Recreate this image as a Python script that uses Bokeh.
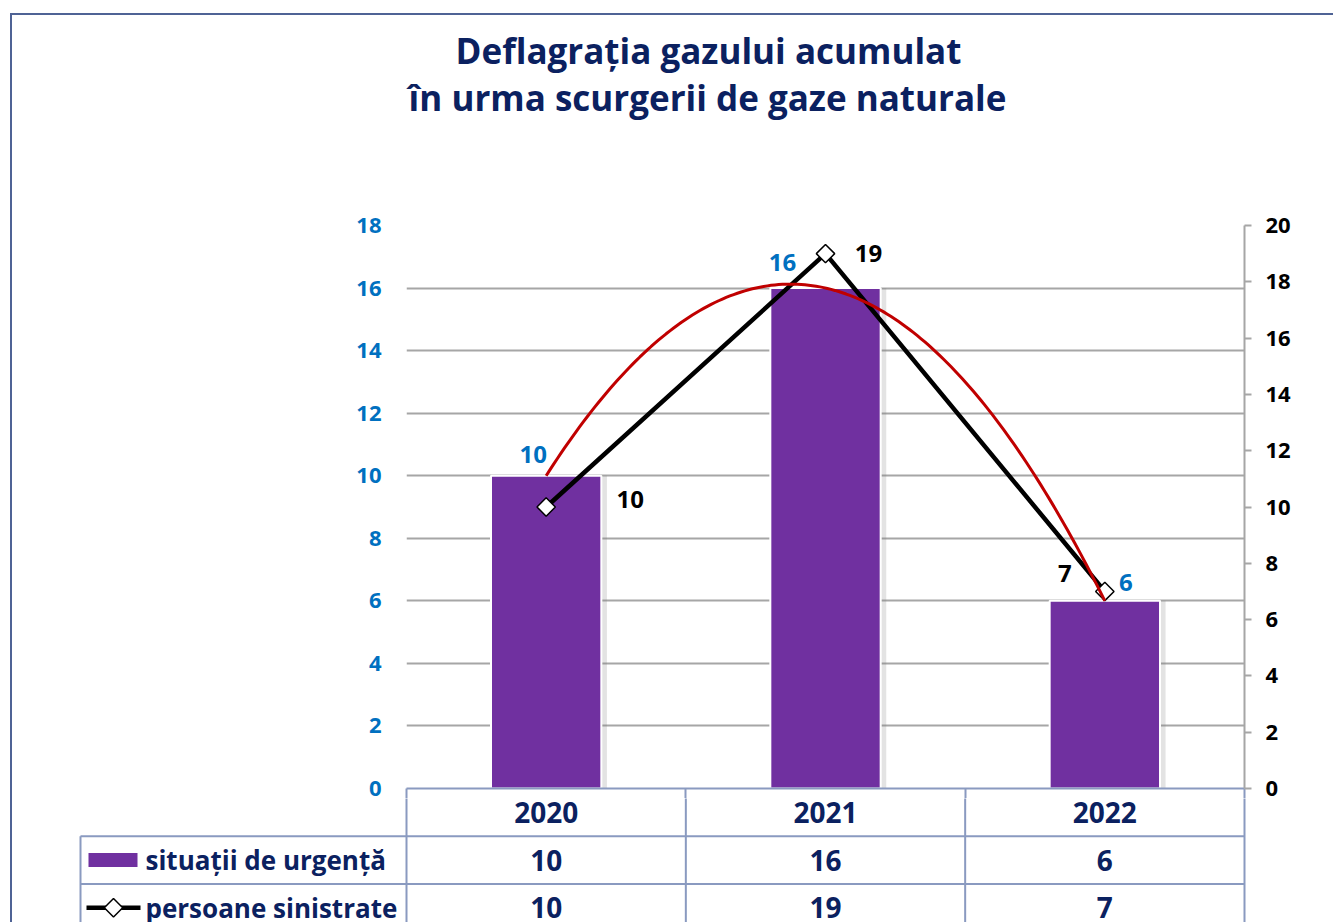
import numpy as np
from bokeh.plotting import figure
from bokeh.models import (Range1d, LinearAxis, SingleIntervalTicker, FixedTicker,
                          ColumnDataSource, LabelSet, LinearScale)
from bokeh.layouts import column
from bokeh.embed import file_html
from bokeh.resources import INLINE
from bokeh.core.properties import value

# ---------------- data ----------------
years = ["2020", "2021", "2022"]
situatii = [10, 16, 6]          # bars, left axis
persoane = [10, 19, 7]          # line, right axis
series_names = ["situații de urgență", "persoane sinistrate"]
title_lines = ["Deflagrația gazului acumulat", "în urma scurgerii de gaze naturale"]
left_max, left_step = 18, 2
right_max, right_step = 20, 2

# ---------------- styles ----------------
FONT = "Open Sans"
NAVY = "#0B2160"
BLUE = "#0070C0"
PURPLE = "#7030A0"
RED = "#C00000"
GRID = "#A6A6A6"
TABLE = "#8A9AC0"
FRAME = "#4F6395"

W = 1333
TITLE_H = 130
CHART_BOTTOM = 798                      # page y where the chart canvas ends
FL, FR, FT, FB = 406, 1244, 225, 788    # frame edges in page px
MAIN_H = CHART_BOTTOM - TITLE_H
n = len(years)
cat_px = (FR - FL) / n
xc = [i + 0.5 for i in range(n)]        # category centres (one unit per category)


def plain(f):
    f.outline_line_color = None
    f.border_fill_color = None
    f.background_fill_color = None
    f.xgrid.visible = False
    f.ygrid.visible = False


# ---------------- title block ----------------
ttl = figure(width=W, height=TITLE_H, x_range=Range1d(0, W), y_range=Range1d(TITLE_H, 0),
             x_axis_location=None, y_axis_location=None, toolbar_location=None,
             output_backend="svg", min_border_left=0, min_border_right=0,
             min_border_top=0, min_border_bottom=0)
plain(ttl)
ttl.text(x=[708, 707], y=[50, 97], text=title_lines, text_align="center",
         text_baseline="middle", text_font=value(FONT), text_font_style="bold",
         text_font_size="35px", text_color=NAVY)

# ---------------- chart ----------------
p = figure(width=W, height=MAIN_H, x_range=Range1d(0, n), y_range=Range1d(0, left_max),
           x_axis_location=None, y_axis_location=None, toolbar_location=None,
           output_backend="svg", min_border_left=FL, min_border_right=W - FR,
           min_border_top=FT - TITLE_H, min_border_bottom=CHART_BOTTOM - FB)
plain(p)
p.background_fill_color = "white"
p.extra_y_ranges = {"right": Range1d(0, right_max)}
p.extra_y_scales = {"right": LinearScale()}
p.ygrid.visible = True
p.ygrid.ticker = SingleIntervalTicker(interval=left_step, num_minor_ticks=0)
p.ygrid.grid_line_color = GRID
p.ygrid.grid_line_width = 2

ax_l = LinearAxis(ticker=SingleIntervalTicker(interval=left_step, num_minor_ticks=0),
                  axis_line_color=None, major_tick_line_color=None, minor_tick_line_color=None,
                  major_tick_out=0, major_tick_in=0, major_label_standoff=25,
                  major_label_text_font=FONT, major_label_text_font_style="bold",
                  major_label_text_font_size="22px", major_label_text_color=BLUE)
p.add_layout(ax_l, "left")

ax_r = LinearAxis(y_range_name="right",
                  ticker=SingleIntervalTicker(interval=right_step, num_minor_ticks=0),
                  axis_line_color=GRID, axis_line_width=2, major_tick_line_color=GRID,
                  major_tick_line_width=2, major_tick_out=7, major_tick_in=0,
                  minor_tick_line_color=None, major_label_standoff=14,
                  major_label_text_font=FONT, major_label_text_font_style="bold",
                  major_label_text_font_size="22px", major_label_text_color="black")
p.add_layout(ax_r, "right")

# bottom axis: top edge of the data table + start of its column separators
ax_b = LinearAxis(ticker=FixedTicker(ticks=[], minor_ticks=list(range(n + 1))),
                  axis_line_color=TABLE, axis_line_width=2,
                  major_tick_line_color=None, major_tick_out=0, major_tick_in=0,
                  minor_tick_line_color=TABLE, minor_tick_line_width=2,
                  minor_tick_out=CHART_BOTTOM - FB, minor_tick_in=0,
                  major_label_standoff=0, major_label_text_font_size="1px")
p.add_layout(ax_b, "below")

src = ColumnDataSource(dict(x=xc, years=years, situatii=situatii, persoane=persoane,
                            xs=[c + 0.02 for c in xc]))
bar_w = 0.395
p.vbar(x="xs", top="situatii", width=bar_w, source=src,
       fill_color="#7F7F7F", fill_alpha=0.22, line_color=None)
p.vbar(x="x", top="situatii", width=bar_w, source=src, fill_color=PURPLE,
       line_color="white", line_width=2)

p.line("x", "persoane", source=src, y_range_name="right", line_color="black", line_width=4.5)
p.scatter("x", "persoane", source=src, y_range_name="right", marker="square", size=13,
          angle=np.pi / 4, fill_color="white", line_color="black", line_width=1.5)

# polynomial (order 2) trendline of the bar series
coef = np.polyfit(np.arange(n), situatii, 2)
tt = np.linspace(0, n - 1, 150)
p.line(tt + 0.5, np.polyval(coef, tt), line_color=RED, line_width=3)

# data labels
lab_b = ColumnDataSource(dict(x=xc, y=situatii, text=[str(v) for v in situatii],
                              dx=[-13, -43, 21], dy=[21, 26, 18]))
p.add_layout(LabelSet(x="x", y="y", text="text", x_offset="dx", y_offset="dy", source=lab_b,
                      text_align="center", text_baseline="middle", text_font=value(FONT),
                      text_font_style="bold", text_font_size="24px", text_color=BLUE))
lab_k = ColumnDataSource(dict(x=xc, y=persoane, text=[str(v) for v in persoane],
                              dx=[84, 43, -40], dy=[8, 0, 18]))
p.add_layout(LabelSet(x="x", y="y", text="text", x_offset="dx", y_offset="dy", source=lab_k,
                      y_range_name="right", text_align="center", text_baseline="middle",
                      text_font=value(FONT), text_font_style="bold", text_font_size="24px",
                      text_color="black"))

# ---------------- data table ----------------
TH = 922 - CHART_BOTTOM
TL, TR = 78, 1246                     # table frame edges in page px
ROW = 47.7
t = figure(width=W, height=TH,
           x_range=Range1d((TL - FL) / cat_px, (TR - FL) / cat_px),
           y_range=Range1d(CHART_BOTTOM - FB + TH, CHART_BOTTOM - FB),  # px below chart frame
           x_axis_location=None, y_axis_location=None, toolbar_location=None,
           output_backend="svg", min_border_left=TL, min_border_right=W - TR,
           min_border_top=0, min_border_bottom=0)
plain(t)

LW = (FL - 80) / cat_px               # legend column width
rows_y = [ROW * (k + 0.5) for k in range(3)]
vx = list(range(n + 1))
t.segment(x0=vx, x1=vx, y0=[0] * len(vx), y1=[3 * ROW] * len(vx), line_color=TABLE, line_width=2)
t.segment(x0=[-LW], x1=[-LW], y0=[ROW], y1=[3 * ROW], line_color=TABLE, line_width=2)
t.segment(x0=[-LW, -LW], x1=[n, n], y0=[ROW, 2 * ROW], y1=[ROW, 2 * ROW],
          line_color=TABLE, line_width=2)

cells = ColumnDataSource(dict(
    x=xc * 3,
    y=[rows_y[0]] * n + [rows_y[1]] * n + [rows_y[2]] * n,
    text=years + [str(v) for v in situatii] + [str(v) for v in persoane]))
t.text(x="x", y="y", text="text", source=cells, text_align="center", text_baseline="middle",
       text_font=value(FONT), text_font_style="bold", text_font_size="28px", text_color=NAVY)

lx = (145 - FL) / cat_px
t.text(x=[lx, lx], y=rows_y[1:], text=series_names, text_align="left", text_baseline="middle",
       text_font=value(FONT), text_font_style="bold", text_font_size="26px", text_color=NAVY)

t.rect(x=[(112.5 - FL) / cat_px], y=[rows_y[1]], width=49, height=14,
       width_units="screen", height_units="screen", fill_color=PURPLE, line_color=None)
t.segment(x0=[(86 - FL) / cat_px], x1=[(140 - FL) / cat_px], y0=[rows_y[2]], y1=[rows_y[2]],
          line_color="black", line_width=4.5)
t.scatter(x=[(113 - FL) / cat_px], y=[rows_y[2]], marker="square", size=13, angle=np.pi / 4,
          fill_color="white", line_color="black", line_width=1.5)

line_bg = f"linear-gradient({FRAME}, {FRAME})"
title_box = column(ttl, styles={
    "background-image": f"{line_bg}, {line_bg}",
    "background-repeat": "no-repeat",
    "background-size": "calc(100% - 10px) 2px, 2px calc(100% - 13px)",
    "background-position": "10px 13px, 10px 13px"})
chart_box = column(p, styles={"background-image": line_bg, "background-repeat": "no-repeat",
                              "background-size": "2px 100%", "background-position": "10px 0px"})
table_box = column(t, styles={"background-image": line_bg, "background-repeat": "no-repeat",
                              "background-size": "2px 100%", "background-position": "10px 0px"})

open("out.html", "w").write(file_html([title_box, chart_box, table_box], INLINE))
